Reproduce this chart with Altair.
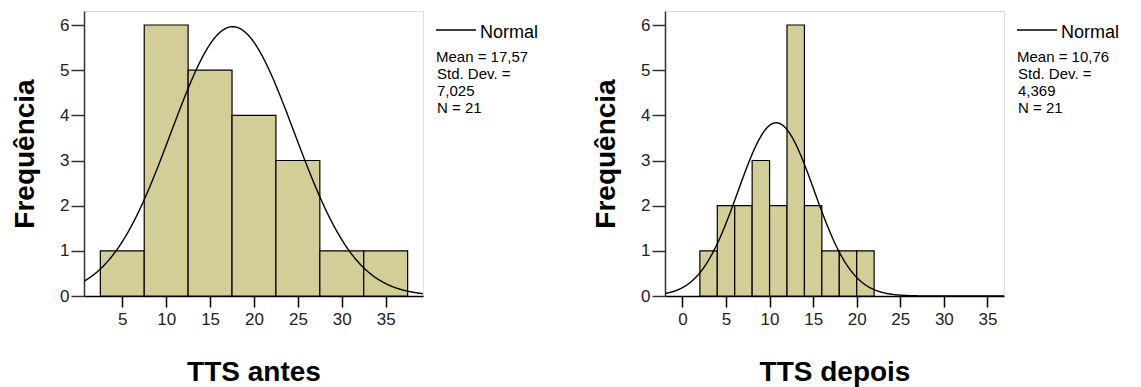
import altair as alt
import pandas as pd

# ---------------- data ----------------
y_ticks = [0, 1, 2, 3, 4, 5, 6]
y_domain = [0, 6.31]

antes_bin_start = [2.5, 7.5, 12.5, 17.5, 22.5, 27.5, 32.5]
antes_bin_end = [7.5, 12.5, 17.5, 22.5, 27.5, 32.5, 37.5]
antes_counts = [1, 6, 5, 4, 3, 1, 1]
antes_mean, antes_sd, antes_n, antes_bw = 17.57, 7.025, 21, 5
antes_ticks = [5, 10, 15, 20, 25, 30, 35]
antes_domain = [0.64, 39.25]
antes_stats = ["Mean = 17,57", "Std. Dev. =", "7,025", "N = 21"]

depois_bin_start = [2, 4, 6, 8, 10, 12, 14, 16, 18, 20]
depois_bin_end = [4, 6, 8, 10, 12, 14, 16, 18, 20, 22]
depois_counts = [1, 2, 2, 3, 2, 6, 2, 1, 1, 1]
depois_mean, depois_sd, depois_n, depois_bw = 10.76, 4.369, 21, 2
depois_ticks = [0, 5, 10, 15, 20, 25, 30, 35]
depois_domain = [-2.0, 36.9]
depois_stats = ["Mean = 10,76", "Std. Dev. =", "4,369", "N = 21"]

BAR = "#D3CE97"
FONT = "Liberation Sans"
W, H = 339, 285


def panel(starts, ends, counts, mean, sd, n, bw, ticks, domain, xtitle, stats):
    df = pd.DataFrame({"start": starts, "end": ends, "count": counts})
    xscale = alt.Scale(domain=domain, nice=False, zero=False)
    yscale = alt.Scale(domain=y_domain, nice=False, zero=True)
    xaxis = alt.Axis(values=ticks, title=xtitle, grid=False, tickSize=11,
                     labelPadding=4, titlePadding=31, labelFontSize=17,
                     titleFontSize=28, titleFontWeight="bold", labelFont=FONT,
                     titleFont=FONT, domainColor="black", domainWidth=1.5,
                     tickColor="black", tickWidth=1.5, labelColor="#222222",
                     titleColor="black", labelFlush=False)
    yaxis = alt.Axis(values=y_ticks, title="Frequência", grid=False, tickSize=13,
                     labelPadding=2, titlePadding=20, labelFontSize=17,
                     titleFontSize=28, titleFontWeight="bold", labelFont=FONT,
                     titleFont=FONT, domainColor="#333333", domainWidth=1.5,
                     tickColor="#333333", tickWidth=1.5, labelColor="#222222",
                     titleColor="black", labelFlush=False)

    bars = alt.Chart(df).mark_rect(fill=BAR, stroke="black", strokeWidth=1.2).encode(
        x=alt.X("start:Q", scale=xscale, axis=xaxis),
        x2="end:Q",
        y=alt.Y("count:Q", scale=yscale, axis=yaxis),
        y2=alt.datum(0),
    )

    curve = alt.Chart(alt.sequence(domain[0], domain[1] + 0.05, 0.05, as_="x")).transform_calculate(
        density=f"{n} * {bw} * densityNormal(datum.x, {mean}, {sd})"
    ).mark_line(color="black", strokeWidth=1.4, clip=True).encode(
        x=alt.X("x:Q", scale=xscale, axis=xaxis),
        y=alt.Y("density:Q", scale=yscale, axis=yaxis),
    )

    leg_line = alt.Chart().mark_rule(color="black", strokeWidth=1.5).encode(
        x=alt.value(W + 13), x2=alt.value(W + 53), y=alt.value(19)
    )
    leg_txt = alt.Chart().mark_text(align="left", baseline="middle", font=FONT,
                                    fontSize=18, color="black").encode(
        x=alt.value(W + 57), y=alt.value(21.5), text=alt.value("Normal")
    )
    mean_txt = alt.Chart().mark_text(align="left", baseline="alphabetic", font=FONT,
                                     fontSize=15, color="black").encode(
        x=alt.value(W + 13), y=alt.value(51), text=alt.value(stats[0])
    )
    rest_txt = alt.Chart().mark_text(align="left", baseline="alphabetic", font=FONT,
                                     fontSize=15, color="black", lineHeight=17).encode(
        x=alt.value(W + 14), y=alt.value(68), text=alt.value(stats[1:])
    )
    return alt.layer(bars, curve, leg_line, leg_txt, mean_txt, rest_txt).properties(width=W, height=H)


left = panel(antes_bin_start, antes_bin_end, antes_counts, antes_mean, antes_sd, antes_n,
             antes_bw, antes_ticks, antes_domain, "TTS antes", antes_stats)
right = panel(depois_bin_start, depois_bin_end, depois_counts, depois_mean, depois_sd, depois_n,
              depois_bw, depois_ticks, depois_domain, "TTS depois", depois_stats)

chart = alt.hconcat(left, right, spacing=242, bounds="flush").properties(
    padding={"left": 11, "top": 10, "right": 5, "bottom": 5}
).configure_view(fill="#F0F0F0", stroke="#8A8A8A", strokeWidth=2).configure(background="white")

chart.save("out.html", embed_options={"renderer": "svg", "actions": False})
